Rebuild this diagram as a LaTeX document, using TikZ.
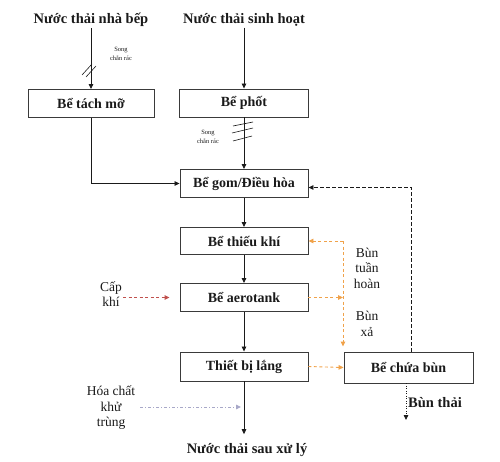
\documentclass[tikz,border=0pt]{standalone}
\usepackage{fontspec}
\setmainfont{Liberation Serif}
\usetikzlibrary{arrows.meta,positioning,calc}
\definecolor{ink}{HTML}{1A1A1A}
\definecolor{frame}{HTML}{3A3A3A}
\definecolor{sludge}{HTML}{F0A24A}
\definecolor{air}{HTML}{C0504D}
\definecolor{chem}{HTML}{A8A8C8}
\tikzset{
  tank/.style={draw=frame,line width=.9pt,minimum width=128pt,minimum height=28pt,inner sep=2pt,font=\fontsize{14}{16}\selectfont\bfseries,text=ink},
  head/.style={font=\fontsize{14.5}{16}\selectfont\bfseries,text=ink,inner sep=1pt},
  side/.style={align=center,font=\fontsize{13.5}{15.5}\selectfont,text=ink,inner sep=1pt},
  note/.style={align=center,font=\fontsize{6.5}{8.5}\selectfont,text=ink,inner sep=0pt},
  ar/.style={-{Triangle[length=5pt,width=4.5pt]},draw=ink,line width=.8pt},
  orar/.style={-{Triangle[length=5pt,width=4.5pt]},draw=sludge,line width=.9pt,dash pattern=on 3pt off 2.5pt},
  airar/.style={-{Triangle[length=5pt,width=4.5pt]},draw=air,line width=.9pt,dash pattern=on 3pt off 2.5pt},
  chemar/.style={-{Triangle[length=5pt,width=4.5pt]},draw=chem,line width=.9pt,dash pattern=on 3pt off 2pt on 1pt off 2pt},
  backar/.style={-{Triangle[length=5pt,width=4.5pt]},draw=ink,line width=.9pt,dash pattern=on 3.5pt off 2.5pt},
  dotar/.style={-{Triangle[length=5pt,width=4.5pt]},draw=ink,line width=.8pt,dash pattern=on 1pt off 1.5pt},
  hatch/.style={draw=ink,line width=.6pt},
}
\begin{document}
\begin{tikzpicture}[x=1pt,y=-1pt]
\useasboundingbox (0,0) rectangle (500,462);
\node[head] (kitchen) at (91,20) {Nước thải nhà bếp};
\node[head] (domestic) at (244,20) {Nước thải sinh hoạt};
\node[tank,minimum width=126pt] (grease) at (91,103.5) {Bể tách mỡ};
\node[tank,minimum width=129pt] (septic) at (244,103) {Bể phốt};
\node[tank] (equal) at (244,183.5) {Bể gom/Điều hòa};
\node[tank,minimum height=27pt] (anoxic) at (244,241) {Bể thiếu khí};
\node[tank] (aero) at (244,297.5) {Bể aerotank};
\node[tank,minimum height=29pt] (settle) at (244,366.5) {Thiết bị lắng};
\node[tank,minimum width=129pt,minimum height=31pt] (store) at (408.5,367.5) {Bể chứa bùn};
\node[head] (outflow) at (247,450) {Nước thải sau xử lý};
\node[side] (airin) at (111,294) {Cấp\\khí};
\node[side] (chemin) at (111,408) {Hóa chất\\khử\\trùng};
\node[side] (recycle) at (367,268) {Bùn\\tuần\\hoàn};
\node[side] (waste) at (367,324) {Bùn\\xả};
\node[head,anchor=west] (sludgeout) at (407,403) {Bùn thải};
\node[note] (screen1) at (121,54) {Song\\chắn rác};
\node[note] (screen2) at (208,137) {Song\\chắn rác};
\coordinate (ret) at (343,241);
\coordinate (dose) at (244,407);
\coordinate (sink) at (406,420);
\draw[ar] (kitchen) -- (grease);
\draw[ar] (domestic) -- (septic);
\draw[ar] (septic) -- (equal);
\draw[ar] (grease.south) |- (equal.west);
\draw[ar] (equal) -- (anoxic);
\draw[ar] (anoxic) -- (aero);
\draw[ar] (aero) -- (settle);
\draw[ar,shorten >=8pt] (settle) -- (settle.south |- outflow.north);
\draw[hatch] (82,75) -- (92,64);
\draw[hatch] (86,77) -- (96,66);
\draw[hatch] (233,126) -- (253,122);
\draw[hatch] (232,133) -- (253,128);
\draw[hatch] (233,141) -- (252,136);
\draw[airar,shorten >=10pt] (airin.east |- aero.west) -- (aero.west);
\draw[chemar,shorten <=4pt,shorten >=3pt] (chemin.east |- dose) -- (dose);
\draw[orar] (ret) -- (anoxic.east);
\draw[orar,shorten >=5pt] (ret) -- (ret |- store.north);
\draw[orar] (aero.east) -- (aero.east -| ret);
\draw[orar] (settle.east) -- (store.west);
\draw[backar] ([xshift=3pt]store.north) |- ([yshift=-4pt]equal.east);
\draw[dotar] (store.south -| sink) -- (sink);
\end{tikzpicture}
\end{document}
